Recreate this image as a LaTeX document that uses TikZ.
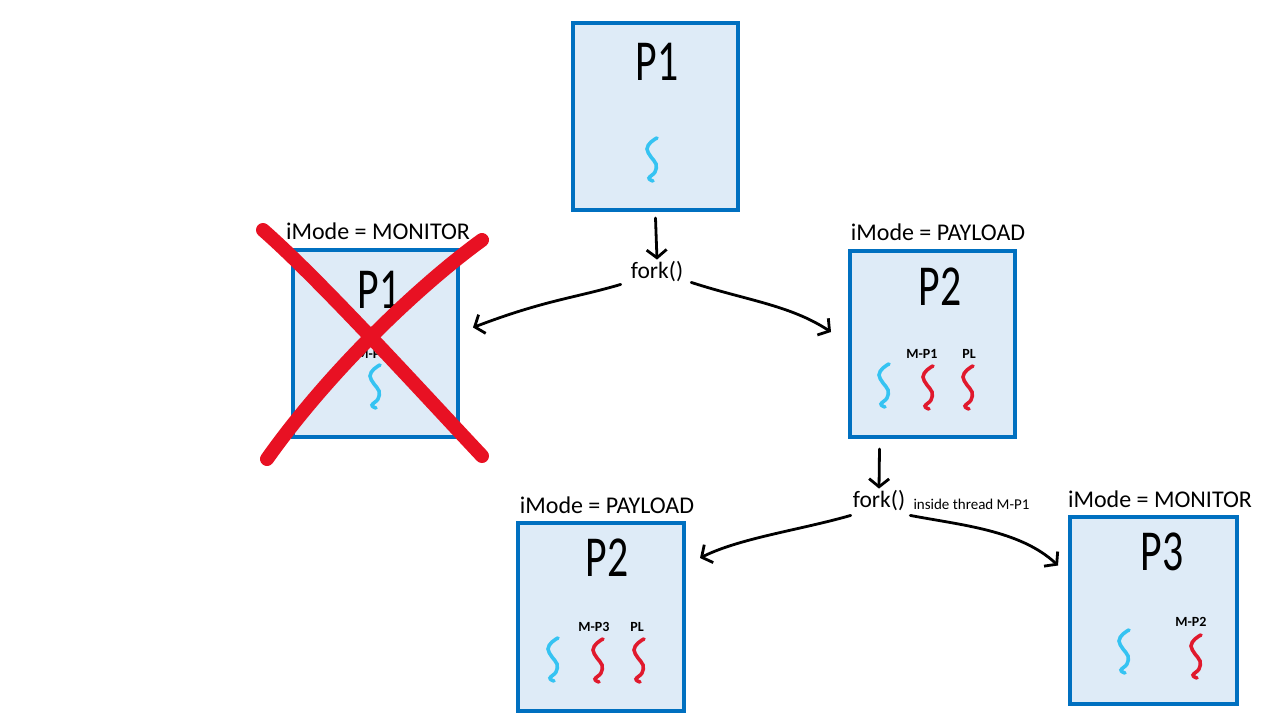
\documentclass[tikz,border=0pt]{standalone}
\usepackage{fontspec}
\setmainfont{Carlito}
\usetikzlibrary{arrows.meta,calc}
\definecolor{boxblue}{HTML}{0070C0}
\definecolor{boxfill}{HTML}{DEEBF7}
\definecolor{thrblue}{HTML}{35C3F2}
\definecolor{thrred}{HTML}{E0192D}
\definecolor{crossred}{HTML}{E81123}
\begin{document}
\begin{tikzpicture}[x=1pt,y=-1pt,
  procbox/.style={draw=boxblue, fill=boxfill, line width=4pt, inner sep=0pt},
  bigname/.style={font=\fontsize{58}{58}\selectfont, xscale=0.72, inner sep=0pt},
  modelbl/.style={font=\fontsize{24}{24}\selectfont, inner sep=1pt},
  forklbl/.style={font=\fontsize{23.5}{23.5}\selectfont, inner sep=2pt},
  smalllbl/.style={font=\fontsize{15}{15}\selectfont, inner sep=1pt},
  tlabel/.style={font=\bfseries\fontsize{14}{14}\selectfont, inner sep=0pt},
  conn/.style={line width=2.8pt, line cap=round, -{Straight Barb[length=8pt,width=20pt,line width=2.8pt]}},
  crossline/.style={draw=crossred, line width=14pt, line cap=round},
  thread/.pic={\draw[line width=3.6pt,line cap=round,pic actions]
     plot[smooth, tension=0.7] coordinates {(5,0) (-1,4) (-5,11) (-1,19) (4,26) (3,34) (-3,40) (1,43)};}
]
\path[use as bounding box, fill=white] (0,0) rectangle (1280,720);

% ---- boxes ----
\node[procbox, minimum width=165pt, minimum height=187pt] (P1top) at (655.5,116.5) {};
\node[procbox, minimum width=165pt, minimum height=187pt] (P1x) at (375.5,343.5) {};
\node[procbox, minimum width=165pt, minimum height=186pt] (P2a) at (932.5,344) {};
\node[procbox, minimum width=166pt, minimum height=188pt] (P2b) at (601,617) {};
\node[procbox, minimum width=167pt, minimum height=187pt] (P3) at (1153.5,610.5) {};

% ---- big names ----
\node[bigname] (nP1top) at (657,62) {P1};
\node[bigname] (nP1x) at (379,290) {P1};
\node[bigname] (nP2a) at (940,287) {P2};
\node[bigname] (nP2b) at (607,558) {P2};
\node[bigname] (nP3) at (1162,552) {P3};

% ---- mode labels ----
\node[modelbl] (mP1x) at (378,231) {iMode = MONITOR};
\node[modelbl] (mP2a) at (938,232) {iMode = PAYLOAD};
\node[modelbl] (mP2b) at (607,505) {iMode = PAYLOAD};
\node[modelbl] (mP3) at (1160,499) {iMode = MONITOR};

% ---- threads ----
\pic[color=thrblue] (t1) at (652,138) {thread};

\node[tlabel] (lx) at (372,354) {M-P2};
\pic[color=thrblue] (t2) at (375,365) {thread};

\pic[color=thrblue] (t3) at (884,364) {thread};
\node[tlabel] (la1) at (922,354) {M-P1};
\pic[color=thrred] (t4) at (928,366) {thread};
\node[tlabel] (la2) at (969,354) {PL};
\pic[color=thrred] (t5) at (968,366) {thread};

\pic[color=thrblue] (t6) at (553,638) {thread};
\node[tlabel] (lb1) at (594,627) {M-P3};
\pic[color=thrred] (t7) at (598,639) {thread};
\node[tlabel] (lb2) at (637,627) {PL};
\pic[color=thrred] (t8) at (639,639) {thread};

\pic[color=thrblue] (t9) at (1124,630) {thread};
\node[tlabel] (lc1) at (1191,622) {M-P2};
\pic[color=thrred] (t10) at (1196,635) {thread};

% ---- fork labels ----
\node[forklbl] (fork1) at (657,272) {fork()};
\node[forklbl] (fork2) at (879,501) {fork()};
\node[smalllbl, anchor=west] (inside) at ($(fork2.east)+(5,3)$) {inside thread M-P1};

% ---- connectors ----
\draw[conn] ($(P1top.south)+(0,6)$) -- (fork1.north);
\draw[conn] ($(fork1.south west)+(-8,0)$) .. controls (575,298) and (545,300) .. ($(P1x.east)+(13,-16)$);
\draw[conn] ($(fork1.south east)+(6,-2)$) .. controls (745,300) and (790,305) .. ($(P2a.west)+(-17,-12)$);
\draw[conn] ($(P2a.south)+(-53,10)$) -- (fork2.north);
\draw[conn] ($(fork2.south west)+(0,2)$) .. controls (800,530) and (740,538) .. ($(P2b.east)+(14,-59)$);
\draw[conn] ($(fork2.south east)+(3,2)$) .. controls (960,525) and (1020,530) .. ($(P3.west)+(-10,-45)$);

% ---- cross ----
\draw[crossline] (263,230) .. controls (320,280) and (420,390) .. (482,456);
\draw[crossline] (482,240) .. controls (420,285) and (330,370) .. (267,459);
\end{tikzpicture}
\end{document}
